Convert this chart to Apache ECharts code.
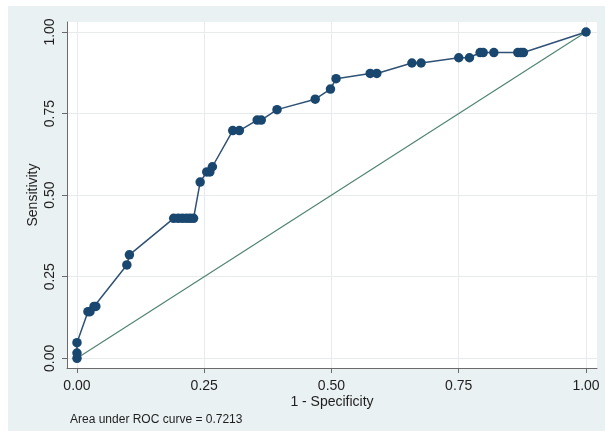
<!DOCTYPE html>
<html>
<head>
<meta charset="utf-8">
<script src="https://cdn.jsdelivr.net/npm/echarts@6/dist/echarts.min.js"></script>
<style>
html,body{margin:0;padding:0;background:#fff;}
#wrap{position:relative;width:605px;height:438px;}
#bg{position:absolute;left:8px;top:6px;width:597px;height:425px;background:#eaf1f3;}
#chart{position:absolute;left:0;top:0;width:605px;height:438px;}
</style>
</head>
<body>
<div id="wrap"><div id="bg"></div><div id="chart"></div></div>
<script>
// 1 - Specificity (false positive rate)
var fpr = [0, 0, 0, 0.0216, 0.0255, 0.0335, 0.037, 0.098, 0.103,
  0.190, 0.199, 0.207, 0.215, 0.222, 0.229,
  0.242, 0.255, 0.261, 0.266, 0.306, 0.319, 0.354, 0.362, 0.393,
  0.468, 0.498, 0.509, 0.576, 0.589, 0.658, 0.676, 0.750, 0.771,
  0.792, 0.798, 0.819, 0.866, 0.872, 0.877, 1];
// Sensitivity (true positive rate)
var tpr = [0, 0.016, 0.048, 0.143, 0.143, 0.159, 0.159, 0.286, 0.317,
  0.429, 0.429, 0.429, 0.429, 0.429, 0.429,
  0.540, 0.571, 0.571, 0.587, 0.698, 0.698, 0.730, 0.730, 0.762,
  0.794, 0.825, 0.857, 0.873, 0.873, 0.905, 0.905, 0.921, 0.921,
  0.937, 0.937, 0.937, 0.937, 0.937, 0.937, 1];
var refX = [0, 1];
var refY = [0, 1];
var tickValues = [0, 0.25, 0.5, 0.75, 1];
var xTitle = '1 - Specificity';
var yTitle = 'Sensitivity';
var aucText = 'Area under ROC curve = 0.7213';

var rocData = fpr.map(function (x, i) { return [x, tpr[i]]; });
var refData = refX.map(function (x, i) { return [x, refY[i]]; });

var chart = echarts.init(document.getElementById('chart'));
var fontFam = '"Liberation Sans", Arial, sans-serif';
function fmt(v) { return Number(v).toFixed(2); }
var axisCommon = {
  type: 'value',
  axisLine: { show: true, onZero: false, lineStyle: { color: '#6a6a6a', width: 1 } },
  axisTick: { show: true, customValues: tickValues, length: 5, lineStyle: { color: '#6a6a6a' } },
  splitLine: { show: true, lineStyle: { color: '#e8ebee', width: 1 } },
  nameLocation: 'middle',
  nameMoveOverlap: false,
  nameTextStyle: { fontFamily: fontFam, fontSize: 14, color: '#1e1e1e' }
};
chart.setOption({
  animation: false,
  textStyle: { fontFamily: fontFam },
  grid: { left: 67, right: 8, top: 22, bottom: 70, show: true, backgroundColor: '#ffffff', borderWidth: 0 },
  xAxis: Object.assign({}, axisCommon, {
    min: -0.0196, max: 1.0216,
    name: xTitle, nameGap: 27,
    axisLabel: { customValues: tickValues, formatter: fmt, fontSize: 14, color: '#1e1e1e', margin: 11, fontFamily: fontFam }
  }),
  yAxis: Object.assign({}, axisCommon, {
    min: -0.0297, max: 1.0306,
    name: yTitle, nameGap: 27, nameRotate: 90,
    axisLabel: { customValues: tickValues, formatter: fmt, fontSize: 14, color: '#1e1e1e', margin: 10, rotate: 90, fontFamily: fontFam }
  }),
  series: [
    {
      type: 'line', data: refData, showSymbol: false, symbol: 'none',
      lineStyle: { color: '#4f8570', width: 1.2 }, z: 2
    },
    {
      type: 'line', data: rocData, symbol: 'circle', symbolSize: 9.5,
      itemStyle: { color: '#1a476f' },
      lineStyle: { color: '#2f5175', width: 1.5 }, z: 3
    }
  ],
  graphic: [
    { type: 'text', left: 70, top: 414, style: { text: aucText, font: '12px ' + fontFam, fill: '#1e1e1e' } }
  ]
});
</script>
</body>
</html>
